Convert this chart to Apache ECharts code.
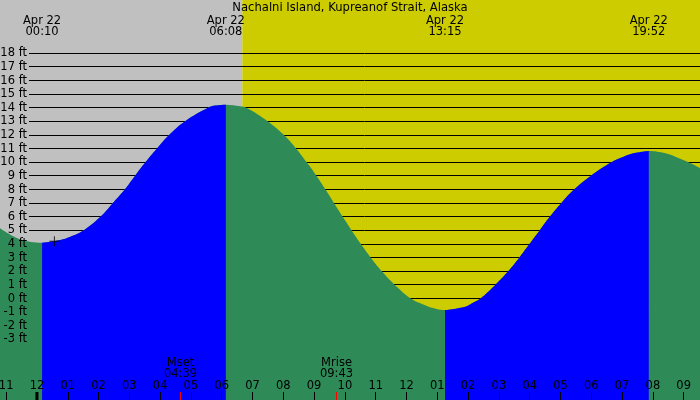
<!DOCTYPE html>
<html>
<head>
<meta charset="utf-8">
<script src="https://cdn.jsdelivr.net/npm/echarts@6/dist/echarts.min.js"></script>
<style>
  html, body { margin: 0; padding: 0; background: #fff; }
  #chart { width: 700px; height: 400px; }
</style>
</head>
<body>
<div id="chart"></div>
<script>
const stationName = 'Nachalni Island, Kupreanof Strait, Alaska'
const dateLabel = 'Apr 22'

// high / low tide events
const tideEventTimes = ['00:10', '06:08', '13:15', '19:52']
const tideEventFeet = [4.1, 14.23, -0.84, 10.83]

// tide curve (hours after midnight, feet)
const curveHours = [-1.2, -0.54, 0.76, 1.08, 1.51, 2.06, 2.46, 2.85, 3.18, 3.52, 3.89, 4.29, 4.8, 5.56, 5.79,
  6.6, 6.8, 7.5, 8.02, 8.42, 8.76, 9.08, 9.37, 9.65, 9.93, 10.22, 10.52, 10.84, 11.2, 11.62, 12.14, 12.45, 12.72,
  13.91, 14.13, 14.4, 14.88, 15.3, 15.66, 15.99, 16.32, 16.65, 17.02, 17.44, 17.98, 18.65, 19.05, 19.37,
  20.41, 20.73, 21.16, 21.54]
const curveFeet = [5.16, 4.35, 4.3, 4.54, 5, 6, 7, 8, 9, 10, 11, 12, 13, 14, 14.16,
  14.11, 14, 13, 12, 11, 10, 9, 8, 7, 6, 5, 4, 3, 2, 1, 0, -0.35, -0.59,
  -0.59, -0.35, 0, 1, 2, 3, 4, 5, 6, 7, 8, 9, 10, 10.41, 10.66,
  10.66, 10.41, 10, 9.56]

const sunriseTime = '06:40'
const moonEvents = ['Mset', 'Mrise']
const moonTimes = ['04:39', '09:43']

const nowTime = '00:34'
const nowFeet = 4.2

const hourTicks = [-1, 0, 1, 2, 3, 4, 5, 6, 7, 8, 9, 10, 11, 12, 13, 14, 15, 16, 17, 18, 19, 20, 21]
const feetTicks = [-3, -2, -1, 0, 1, 2, 3, 4, 5, 6, 7, 8, 9, 10, 11, 12, 13, 14, 15, 16, 17, 18]

const xMin = -1.2
const xMax = 21.53
const yMin = -7.44
const yMax = 21.91

const FONT = 'DejaVu Sans'
const FONT_SIZE = 11.5
const NIGHT = '#c0c0c0'
const DAY = '#cccc00'
const FALLING = '#2e8b57'
const RISING = '#0000ff'

const toHours = (s) => {
  const [h, m] = s.split(':').map(Number)
  return h + m / 60
}

const eventHours = tideEventTimes.map(toHours)
const curve = curveHours.map((t, i) => [t, curveFeet[i]])
  .concat(eventHours.map((t, i) => [t, tideEventFeet[i]]))
  .sort((a, b) => a[0] - b[0])

// rising stretches (low -> high) are drawn blue
const risingSpans = []
for (let i = 0; i < eventHours.length - 1; i++) {
  if (tideEventFeet[i] < tideEventFeet[i + 1]) {
    risingSpans.push([eventHours[i], eventHours[i + 1]])
  }
}

const sunrise = toHours(sunriseTime)
const bands = [[xMin, sunrise], [sunrise, xMax]]
const bandColors = [NIGHT, DAY]

const hourLabel = (v) => {
  let h = ((v % 12) + 12) % 12
  if (h === 0) h = 12
  return (h < 10 ? '0' : '') + h
}

const areaSeries = (data, color, z) => ({
  type: 'line',
  data,
  z,
  smooth: 0.4,
  showSymbol: false,
  silent: true,
  lineStyle: { width: 0 },
  areaStyle: { color, opacity: 1, origin: 'start' }
})

const textStyle = { fontFamily: FONT, fontSize: FONT_SIZE, color: '#000' }

const option = {
  animation: false,
  backgroundColor: '#fff',
  title: {
    text: stationName,
    left: 'center',
    top: 2,
    padding: 0,
    textStyle: { ...textStyle, fontWeight: 'normal', fontSize: 11.6 }
  },
  grid: { left: 0, right: 0, top: 0, bottom: 0, containLabel: false, outerBoundsMode: 'none' },
  xAxis: {
    type: 'value',
    min: xMin,
    max: xMax,
    z: 10,
    splitLine: { show: false },
    axisLine: { show: false, onZero: false },
    axisTick: {
      inside: true,
      length: 8,
      customValues: hourTicks,
      lineStyle: { color: '#000', width: 1 }
    },
    axisLabel: {
      inside: true,
      margin: 8,
      customValues: hourTicks,
      formatter: hourLabel,
      ...textStyle
    }
  },
  yAxis: {
    type: 'value',
    min: yMin,
    max: yMax,
    z: 10,
    splitLine: { show: false },
    axisLine: { show: false, onZero: false },
    axisTick: { show: false },
    axisLabel: {
      inside: true,
      margin: 27,
      align: 'right',
      customValues: feetTicks,
      formatter: (v) => v + ' ft',
      ...textStyle
    }
  },
  series: [
    {
      type: 'custom',
      z: 0,
      silent: true,
      data: bands,
      encode: { x: [0, 1] },
      renderItem(params, api) {
        const cs = params.coordSys
        const x0 = api.coord([api.value(0), 0])[0]
        const x1 = api.coord([api.value(1), 0])[0]
        return {
          type: 'rect',
          shape: { x: x0, y: cs.y, width: x1 - x0, height: cs.height },
          style: { fill: bandColors[params.dataIndex] }
        }
      }
    },
    {
      type: 'custom',
      z: 1,
      silent: true,
      data: feetTicks.map((v) => [xMin, v]),
      encode: { x: 0, y: 1 },
      renderItem(params, api) {
        const cs = params.coordSys
        const y = Math.round(api.coord([api.value(0), api.value(1)])[1] - 0.5) + 0.5
        return {
          type: 'line',
          shape: { x1: cs.x + 29, y1: y, x2: cs.x + cs.width, y2: y },
          style: { stroke: '#000', lineWidth: 1 }
        }
      }
    },
    areaSeries(curve, FALLING, 2),
    ...risingSpans.map(([a, b]) =>
      areaSeries(curve.filter((p) => p[0] >= a && p[0] <= b), RISING, 3)),
    {
      type: 'scatter',
      z: 4,
      silent: true,
      data: [[toHours(nowTime), nowFeet]],
      symbol: 'path://M4.5,0h1v4.5h4.5v1h-4.5v4.5h-1v-4.5h-4.5v-1h4.5z',
      symbolSize: 10,
      itemStyle: { color: '#000' }
    },
    {
      // tide event labels along the top
      type: 'custom',
      z: 5,
      silent: true,
      data: eventHours.map((t, i) => [t, tideEventFeet[i]]),
      encode: { x: 0, y: 1 },
      renderItem(params, api) {
        const x = api.coord([api.value(0), 0])[0]
        return {
          type: 'text',
          style: {
            text: dateLabel + '\n' + tideEventTimes[params.dataIndex],
            x,
            y: 26.5,
            align: 'center',
            verticalAlign: 'middle',
            lineHeight: 11.5,
            fontFamily: FONT,
            fontSize: FONT_SIZE,
            fill: '#000'
          }
        }
      }
    },
    {
      // moon rise / set ticks and labels
      type: 'custom',
      z: 5,
      silent: true,
      data: moonTimes.map((s) => [toHours(s), 0]),
      encode: { x: 0, y: 1 },
      renderItem(params, api) {
        const cs = params.coordSys
        const bottom = cs.y + cs.height
        const x = Math.round(api.coord([api.value(0), 0])[0] - 0.5) + 0.5
        return {
          type: 'group',
          children: [
            {
              type: 'line',
              shape: { x1: x, y1: bottom - 8, x2: x, y2: bottom },
              style: { stroke: '#ff0000', lineWidth: 1 }
            },
            {
              type: 'text',
              style: {
                text: moonEvents[params.dataIndex] + '\n' + moonTimes[params.dataIndex],
                x,
                y: bottom - 31.5,
                align: 'center',
                verticalAlign: 'middle',
                lineHeight: 11.5,
                fontFamily: FONT,
                fontSize: FONT_SIZE,
                fill: '#000'
              }
            }
          ]
        }
      }
    },
    {
      // midnight tick
      type: 'custom',
      z: 5,
      silent: true,
      data: [[0, 0]],
      encode: { x: 0, y: 1 },
      renderItem(params, api) {
        const cs = params.coordSys
        const bottom = cs.y + cs.height
        const x = api.coord([api.value(0), 0])[0]
        return {
          type: 'line',
          shape: { x1: x, y1: bottom - 8, x2: x, y2: bottom },
          style: { stroke: '#000', lineWidth: 3 }
        }
      }
    }
  ]
}

const chart = echarts.init(document.getElementById('chart'), null, { renderer: 'canvas' })
chart.setOption(option)
</script>
</body>
</html>
